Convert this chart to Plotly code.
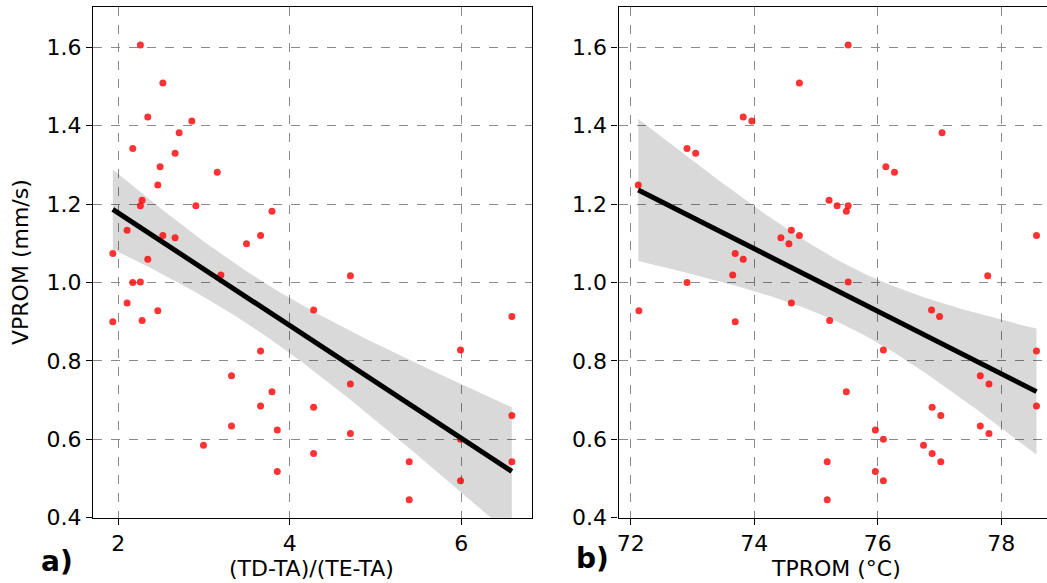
import numpy as np
import plotly.graph_objects as go

# VPROM (mm/s), shared by both panels
vprom = [1.606, 1.509, 1.422, 1.412, 1.382, 1.342, 1.330, 1.295, 1.281, 1.249,
         1.210, 1.196, 1.196, 1.182, 1.133, 1.120, 1.120, 1.114, 1.099, 1.074,
         1.059, 1.019, 1.017, 1.001, 1.000, 0.948, 0.930, 0.928, 0.913, 0.903,
         0.900, 0.828, 0.825, 0.762, 0.741, 0.721, 0.685, 0.682, 0.661, 0.634,
         0.624, 0.615, 0.600, 0.585, 0.564, 0.543, 0.543, 0.518, 0.494, 0.446]
# (TD-TA)/(TE-TA)
ratio = [2.257, 2.519, 2.343, 2.857, 2.709, 2.168, 2.662, 2.487, 3.153, 2.460,
         2.277, 2.257, 2.904, 3.792, 2.102, 2.519, 3.659, 2.662, 3.495, 1.935,
         2.343, 3.196, 4.707, 2.257, 2.168, 2.102, 4.278, 2.460, 6.591, 2.277,
         1.935, 5.992, 3.659, 3.320, 4.707, 3.792, 3.659, 4.278, 6.591, 3.320,
         3.854, 4.707, 5.992, 2.993, 4.278, 5.393, 6.591, 3.854, 5.992, 5.393]
# TPROM (°C)
tprom = [75.52, 74.73, 73.82, 73.96, 77.04, 72.91, 73.05, 76.13, 76.27, 72.12,
         75.21, 75.34, 75.52, 75.49, 74.60, 74.73, 78.57, 74.43, 74.56, 73.69,
         73.82, 73.65, 77.78, 75.52, 72.91, 74.60, 76.87, 72.13, 77.00, 75.22,
         73.69, 76.09, 78.57, 77.66, 77.80, 75.49, 78.57, 76.88, 77.02, 77.66,
         75.96, 77.80, 76.09, 76.74, 76.88, 75.18, 77.02, 75.96, 76.09, 75.18]

xticks_a = [2, 4, 6]
xticks_b = [72, 74, 76, 78]
yticks = [0.4, 0.6, 0.8, 1.0, 1.2, 1.4, 1.6]


def fit_band(x, y):
    x = np.asarray(x, float)
    y = np.asarray(y, float)
    n = len(x)
    b, a = np.polyfit(x, y, 1)
    xs = np.linspace(x.min(), x.max(), 100)
    ys = a + b * xs
    resid = y - (a + b * x)
    s = np.sqrt(np.sum(resid ** 2) / (n - 2))
    se = s * np.sqrt(1.0 / n + (xs - x.mean()) ** 2 / np.sum((x - x.mean()) ** 2))
    t = 2.01
    return xs, ys, ys + t * se, ys - t * se


fig = go.Figure()
FONT = "DejaVu Sans"

for xd, xa, ya in [(ratio, "x", "y"), (tprom, "x2", "y2")]:
    xs, ys, up, lo = fit_band(xd, vprom)
    fig.add_trace(go.Scatter(
        x=np.concatenate([xs, xs[::-1]]), y=np.concatenate([up, lo[::-1]]),
        fill="toself", fillcolor="rgba(0,0,0,0.15)", line=dict(width=0),
        mode="lines", hoverinfo="skip", showlegend=False, xaxis=xa, yaxis=ya))
    fig.add_trace(go.Scatter(
        x=xd, y=vprom, mode="markers",
        marker=dict(color="rgba(255,0,0,0.8)", size=7, line=dict(width=0)),
        showlegend=False, xaxis=xa, yaxis=ya))
    fig.add_trace(go.Scatter(
        x=xs, y=ys, mode="lines", line=dict(color="black", width=5),
        showlegend=False, xaxis=xa, yaxis=ya))

W, H = 1047, 583
xd1 = [93 / W, 531.5 / W]
xd2 = [618.5 / W, 1.0]
yd = [1 - 517.7 / H, 1 - 7.3 / H]

common_ax = dict(showline=True, linecolor="black", linewidth=1.3, automargin=False,
                 ticks="outside", ticklen=6, tickwidth=1.3, tickcolor="black",
                 showgrid=True, gridcolor="#8a8a8a", griddash="dash", gridwidth=1,
                 zeroline=False, tickfont=dict(family=FONT, size=22, color="black"))

ann_font = dict(family=FONT, size=22, color="black")
lab_font = dict(family=FONT, size=28, color="black")

def ann(text, px, py, font, angle=0):
    return dict(text=text, x=px / W, y=1 - py / H, xref="paper", yref="paper",
                xanchor="center", yanchor="middle", textangle=angle,
                showarrow=False, font=font)

fig.update_layout(
    width=W, height=H, margin=dict(l=0, r=0, t=0, b=0, autoexpand=False),
    paper_bgcolor="white", plot_bgcolor="white",
    xaxis=dict(domain=xd1, range=[1.704, 6.82], tickvals=xticks_a, anchor="y",
               mirror=True, **common_ax),
    yaxis=dict(domain=yd, range=[0.4, 1.702], tickvals=yticks, tickformat=".1f",
               anchor="x", mirror=True, **common_ax),
    xaxis2=dict(domain=xd2, range=[71.8, 78.74], tickvals=xticks_b, anchor="y2",
                mirror=True, **common_ax),
    yaxis2=dict(domain=yd, range=[0.4, 1.702], tickvals=yticks, tickformat=".1f",
                anchor="x2", mirror=False, **common_ax),
    annotations=[
        ann("VPROM (mm/s)", 20, 262, ann_font, -90),
        ann("(TD-TA)/(TE-TA)", 311, 568, ann_font),
        ann("TPROM (°C)", 836, 568, ann_font),
        ann("<b>a)</b>", 57, 561, lab_font),
        ann("<b>b)</b>", 592, 558, lab_font),
    ],
)

fig.write_html("out.html")
